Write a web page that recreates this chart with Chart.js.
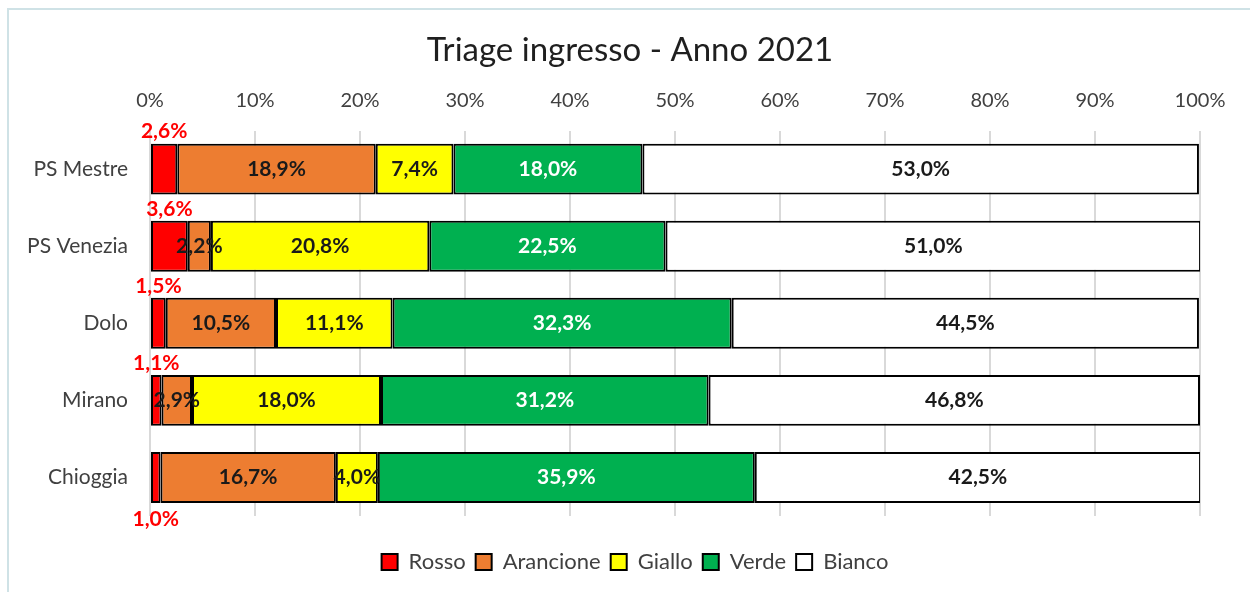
<!DOCTYPE html>
<html>
<head>
<meta charset="utf-8">
<script src="https://cdn.jsdelivr.net/npm/chart.js@4.4.1/dist/chart.umd.min.js"></script>
<style>
  body { margin: 0; background: #fff; }
  #wrap { position: relative; width: 1250px; height: 592px; overflow: hidden; }
  #frame { position: absolute; left: 7px; top: 8px; width: 1300px; height: 700px;
           border-left: 2px solid #cfe2e6; border-top: 2px solid #cfe2e6; }
  #chart { position: absolute; left: 0; top: 0; }
</style>
</head>
<body>
<div id="wrap">
  <div id="frame"></div>
  <canvas id="chart" width="1250" height="592"></canvas>
</div>
<script>
const categories = ["PS Mestre", "PS Venezia", "Dolo", "Mirano", "Chioggia"];
const rosso     = [2.6, 3.6, 1.5, 1.1, 1.0];
const arancione = [18.9, 2.2, 10.5, 2.9, 16.7];
const giallo    = [7.4, 20.8, 11.1, 18.0, 4.0];
const verde     = [18.0, 22.5, 32.3, 31.2, 35.9];
const bianco    = [53.0, 51.0, 44.5, 46.8, 42.5];
const xTicks = [0, 10, 20, 30, 40, 50, 60, 70, 80, 90, 100];

const FONT = "Lato, 'Open Sans', sans-serif";

function series(label, data, color, textColor) {
  return {
    label, data,
    backgroundColor: color,
    borderColor: "#000",
    borderWidth: 2,
    borderSkipped: false,
    textColor
  };
}

const fmt = v => v.toFixed(1).replace(".", ",") + "%";

// value labels, since chartjs-plugin-datalabels isn't available offline
const barLabels = {
  id: "barLabels",
  afterDatasetsDraw(chart) {
    const ctx = chart.ctx;
    ctx.save();
    ctx.font = "bold 21px " + FONT;
    ctx.textAlign = "center";
    ctx.textBaseline = "middle";
    chart.data.datasets.forEach((ds, i) => {
      const meta = chart.getDatasetMeta(i);
      meta.data.forEach((bar, j) => {
        const cx = (bar.x + bar.base) / 2;
        let cy = bar.y;
        if (i === 0) {
          // small red slice: label outside the bar
          const half = bar.height / 2;
          cy = j === categories.length - 1 ? bar.y + half + 16 : bar.y - half - 12;
          ctx.fillStyle = "#ff0000";
        } else {
          ctx.fillStyle = ds.textColor;
        }
        ctx.fillText(fmt(ds.data[j]), cx, cy);
      });
    });
    ctx.restore();
  }
};

// the excel title and legend are centred on the whole frame, not the plot
const recenter = {
  id: "recenter",
  afterLayout(chart) {
    if (chart.titleBlock) { chart.titleBlock.left = 10; chart.titleBlock.right = 1250; }
    if (chart.legend) { chart.legend.left = 20; chart.legend.right = 1250; }
  }
};

new Chart(document.getElementById("chart"), {
  type: "bar",
  plugins: [barLabels, recenter],
  data: {
    labels: categories,
    datasets: [
      series("Rosso", rosso, "#ff0000", "#000"),
      series("Arancione", arancione, "#ed7d31", "#1a1a1a"),
      series("Giallo", giallo, "#ffff00", "#1a1a1a"),
      series("Verde", verde, "#00b050", "#ffffff"),
      series("Bianco", bianco, "#ffffff", "#1a1a1a")
    ]
  },
  options: {
    indexAxis: "y",
    responsive: false,
    devicePixelRatio: 1,
    animation: false,
    layout: { padding: { left: 0, right: 50, top: 0, bottom: 9 } },
    datasets: { bar: { categoryPercentage: 1, barPercentage: 0.66 } },
    scales: {
      x: {
        type: "linear",
        position: "top",
        stacked: true,
        min: 0, max: 100,
        afterBuildTicks: s => { s.ticks = xTicks.map(v => ({ value: v })); },
        afterFit: s => { s.height = 52; },
        ticks: {
          padding: 18,
          color: "#404040",
          font: { family: FONT, size: 20 },
          callback: v => v + "%"
        },
        grid: { color: "#d9d9d9", lineWidth: 2, drawTicks: false },
        border: { display: false }
      },
      xb: {
        type: "linear",
        position: "bottom",
        min: 0, max: 100,
        ticks: { display: false },
        grid: { display: false },
        border: { display: false },
        afterFit: s => { s.height = 25; }
      },
      y: {
        stacked: true,
        afterFit: s => { s.width = 150; },
        ticks: {
          padding: 22,
          color: "#404040",
          font: { family: FONT, size: 21 }
        },
        grid: { display: false, drawTicks: false },
        border: { display: false }
      }
    },
    plugins: {
      tooltip: { enabled: false },
      title: {
        display: true,
        text: "Triage ingresso - Anno 2021",
        color: "#1f1f1f",
        font: { family: FONT, size: 33, weight: "normal" },
        padding: { top: 31, bottom: 8 }
      },
      legend: {
        position: "bottom",
        labels: {
          color: "#404040",
          font: { family: FONT, size: 22 },
          boxWidth: 16,
          boxHeight: 16,
          padding: 10
        }
      }
    }
  }
});
</script>
</body>
</html>
